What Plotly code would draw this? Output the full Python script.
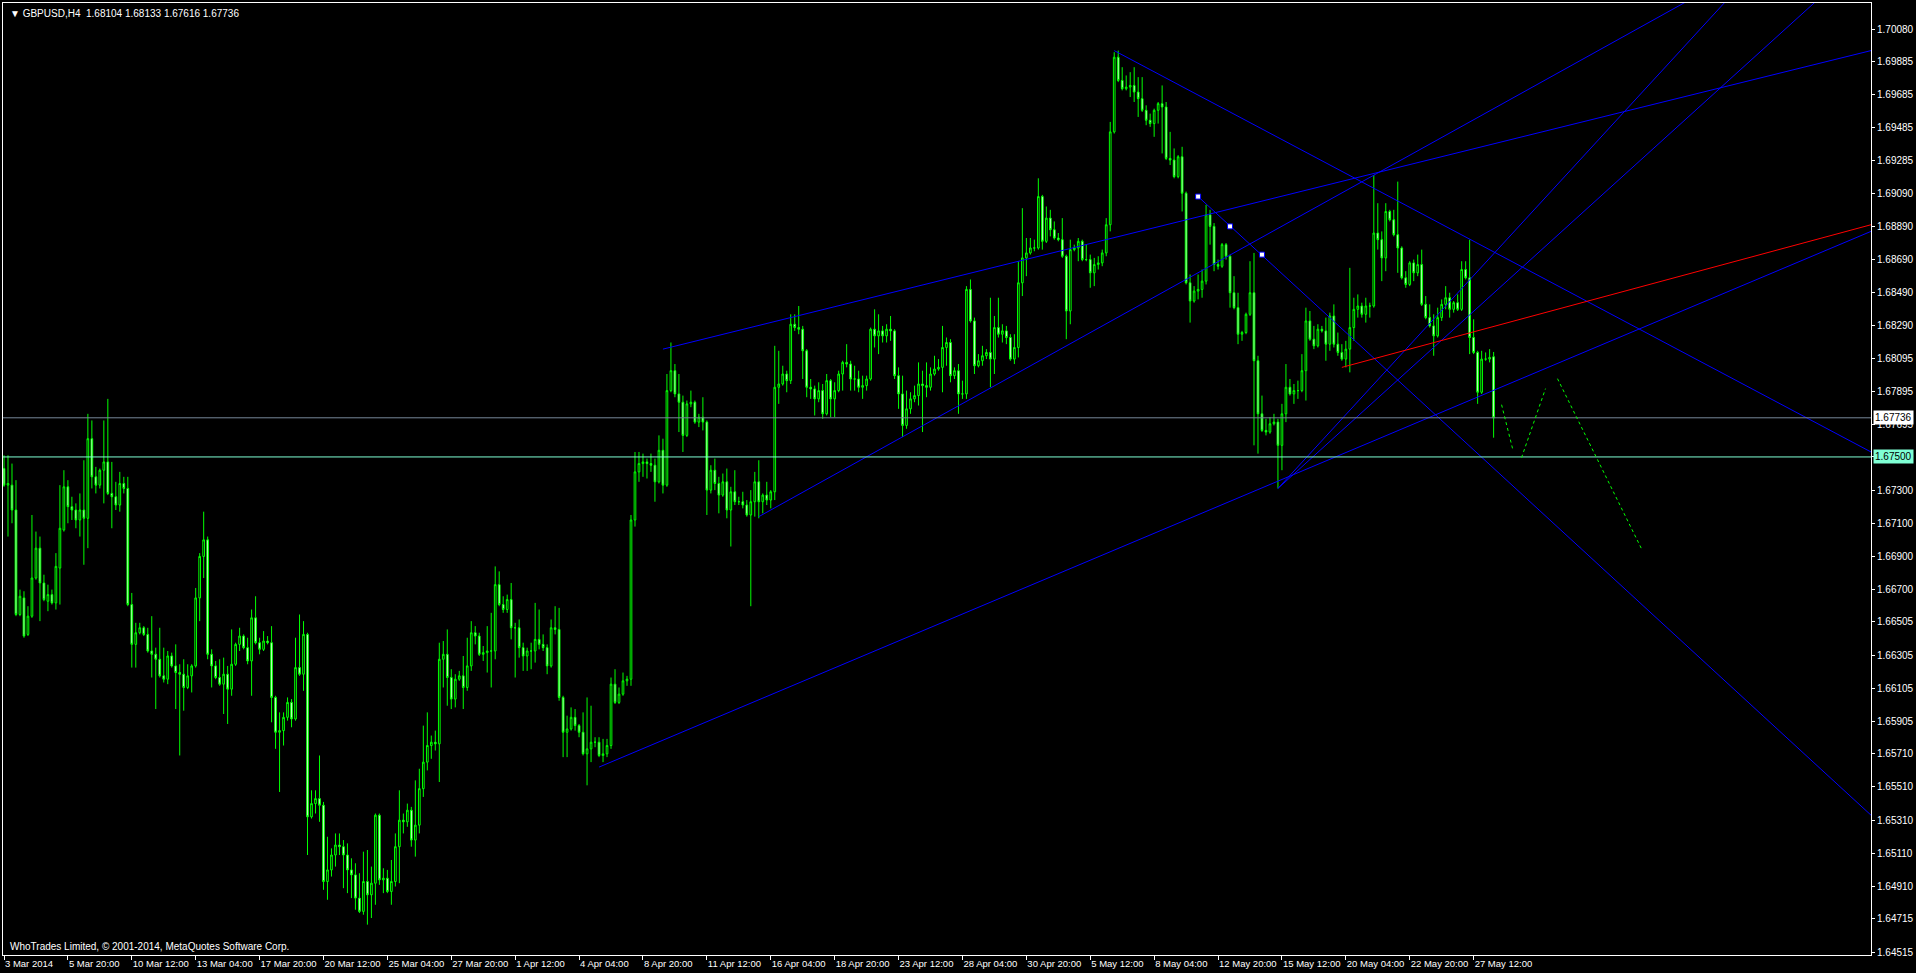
import plotly.graph_objects as go

# ---------------- data (GBPUSD, H4 candles) ----------------
opens = [
 1.6743,1.6733,1.6733,1.6718,1.6655,1.6665,1.6643,1.6654,1.6677,1.6695,
 1.6674,1.6663,1.6667,1.6662,1.6683,1.6706,1.6732,1.6720,1.6718,1.6712,
 1.6718,1.6713,1.6761,1.6738,1.6733,1.6742,1.6747,1.6728,1.6726,1.6721,
 1.6734,1.6731,1.6661,1.6637,1.6644,1.6647,1.6643,1.6633,1.6631,1.6628,
 1.6618,1.6616,1.6630,1.6624,1.6620,1.6619,1.6611,1.6618,1.6624,1.6665,
 1.6690,1.6700,1.6631,1.6624,1.6617,1.6613,1.6619,1.6610,1.6625,1.6637,
 1.6642,1.6635,1.6627,1.6653,1.6638,1.6634,1.6639,1.6638,1.6605,1.6584,
 1.6585,1.6593,1.6602,1.6592,1.6623,1.6619,1.6643,1.6533,1.6541,1.6544,
 1.6540,1.6494,1.6501,1.6510,1.6516,1.6515,1.6510,1.6501,1.6498,1.6484,
 1.6476,1.6494,1.6486,1.6493,1.6534,1.6495,1.6496,1.6488,1.6494,1.6515,
 1.6531,1.6530,1.6537,1.6519,1.6528,1.6550,1.6566,1.6576,1.6578,1.6577,
 1.6628,1.6631,1.6617,1.6604,1.6616,1.6618,1.6611,1.6624,1.6644,1.6642,
 1.6631,1.6632,1.6633,1.6633,1.6673,1.6661,1.6658,1.6664,1.6647,1.6647,
 1.6635,1.6630,1.6633,1.6633,1.6640,1.6637,1.6635,1.6624,1.6647,1.6646,
 1.6605,1.6584,1.6586,1.6593,1.6588,1.6584,1.6571,1.6574,1.6578,1.6578,
 1.6570,1.6571,1.6576,1.6613,1.6602,1.6607,1.6615,1.6616,1.6712,1.6741,
 1.6746,1.6747,1.6746,1.6745,1.6735,1.6754,1.6733,1.6790,1.6802,1.6788,
 1.6783,1.6763,1.6782,1.6783,1.6771,1.6774,1.6771,1.6730,1.6742,1.6734,
 1.6727,1.6735,1.6718,1.6729,1.6723,1.6723,1.6721,1.6715,1.6723,1.6735,
 1.6723,1.6727,1.6724,1.6729,1.6792,1.6794,1.6800,1.6796,1.6830,1.6828,
 1.6827,1.6814,1.6792,1.6791,1.6785,1.6790,1.6776,1.6796,1.6785,1.6790,
 1.6800,1.6807,1.6806,1.6797,1.6797,1.6792,1.6793,1.6797,1.6827,1.6823,
 1.6826,1.6823,1.6827,1.6826,1.6799,1.6788,1.6769,1.6779,1.6785,1.6787,
 1.6794,1.6793,1.6792,1.6800,1.6803,1.6804,1.6816,1.6819,1.6799,1.6802,
 1.6788,1.6788,1.6851,1.6832,1.6805,1.6808,1.6811,1.6813,1.6809,1.6828,
 1.6824,1.6826,1.6822,1.6809,1.6816,1.6855,1.6870,1.6873,1.6876,1.6876,
 1.6907,1.6880,1.6894,1.6887,1.6882,1.6881,1.6871,1.6838,1.6875,1.6876,
 1.6880,1.6869,1.6869,1.6861,1.6866,1.6867,1.6873,1.6890,1.6946,1.6991,
 1.6977,1.6972,1.6973,1.6974,1.6970,1.6966,1.6959,1.6953,1.6951,1.6959,
 1.6963,1.6961,1.6930,1.6929,1.6919,1.6931,1.6909,1.6855,1.6844,1.6850,
 1.6851,1.6856,1.6896,1.6889,1.6866,1.6865,1.6878,1.6871,1.6849,1.6840,
 1.6824,1.6825,1.6836,1.6849,1.6808,1.6776,1.6766,1.6765,1.6770,1.6771,
 1.6757,1.6776,1.6792,1.6788,1.6790,1.6790,1.6802,1.6832,1.6821,1.6817,
 1.6827,1.6826,1.6818,1.6835,1.6818,1.6813,1.6809,1.6815,1.6828,1.6839,
 1.6841,1.6836,1.6841,1.6841,1.6885,1.6881,1.6870,1.6898,1.6893,1.6884,
 1.6876,1.6858,1.6854,1.6867,1.6861,1.6866,1.6842,1.6834,1.6829,1.6823,
 1.6834,1.6842,1.6846,1.6839,1.6843,1.6839,1.6863,1.6858,1.6822,1.6813,
 1.6789,1.6809,1.6809,1.68104]

highs = [
 1.6751,1.6751,1.6746,1.6736,1.6670,1.6669,1.6660,1.6715,1.6705,1.6702,
 1.6679,1.6673,1.6670,1.6692,1.6733,1.6742,1.6736,1.6726,1.6722,1.6728,
 1.6748,1.6776,1.6772,1.6744,1.6743,1.6772,1.6785,1.6747,1.6735,1.6741,
 1.6738,1.6738,1.6668,1.6650,1.6650,1.6648,1.6647,1.6654,1.6635,1.6647,
 1.6635,1.6633,1.6632,1.6637,1.6625,1.6628,1.6625,1.6625,1.6671,1.6692,
 1.6717,1.6702,1.6634,1.6627,1.6628,1.6629,1.6624,1.6646,1.6638,1.6647,
 1.6643,1.6641,1.6658,1.6666,1.6641,1.6645,1.6642,1.6648,1.6606,1.6596,
 1.6596,1.6605,1.6604,1.6641,1.6655,1.6651,1.6644,1.6549,1.6549,1.6570,
 1.6542,1.6521,1.6514,1.6523,1.6523,1.6519,1.6517,1.6508,1.6505,1.6499,
 1.6512,1.6513,1.6503,1.6535,1.6535,1.6502,1.6501,1.6507,1.6523,1.6549,
 1.6535,1.6541,1.6539,1.6555,1.6562,1.6588,1.6596,1.6582,1.6585,1.6638,
 1.6639,1.6646,1.6622,1.6619,1.6621,1.6630,1.6641,1.6651,1.6648,1.6644,
 1.6636,1.6648,1.6656,1.6684,1.6681,1.6666,1.6667,1.6674,1.6650,1.6652,
 1.6638,1.6635,1.6638,1.6662,1.6658,1.6643,1.6637,1.6652,1.6660,1.6659,
 1.6606,1.6594,1.6599,1.6598,1.6589,1.6596,1.6605,1.6600,1.6581,1.6581,
 1.6580,1.6580,1.6617,1.6622,1.6611,1.6620,1.6618,1.6715,1.6753,1.6753,
 1.6752,1.6749,1.6752,1.6749,1.6763,1.6761,1.6800,1.6819,1.6806,1.6800,
 1.6787,1.6784,1.6790,1.6784,1.6776,1.6786,1.6772,1.6745,1.6749,1.6738,
 1.6740,1.6743,1.6732,1.6742,1.6726,1.6729,1.6724,1.6730,1.6741,1.6748,
 1.6728,1.6735,1.6730,1.6817,1.6814,1.6805,1.6802,1.6836,1.6836,1.6841,
 1.6829,1.6815,1.6797,1.6793,1.6795,1.6794,1.6800,1.6797,1.6795,1.6802,
 1.6808,1.6818,1.6808,1.6805,1.6802,1.6799,1.6799,1.6828,1.6839,1.6836,
 1.6829,1.6830,1.6835,1.6827,1.6804,1.6799,1.6790,1.6789,1.6793,1.6807,
 1.6802,1.6807,1.6804,1.6811,1.6809,1.6829,1.6822,1.6821,1.6804,1.6806,
 1.6796,1.6853,1.6857,1.6834,1.6812,1.6817,1.6815,1.6846,1.6835,1.6846,
 1.6830,1.6829,1.6824,1.6824,1.6868,1.6900,1.6882,1.6882,1.6881,1.6918,
 1.6908,1.6901,1.6899,1.6892,1.6885,1.6894,1.6872,1.6881,1.6878,1.6882,
 1.6881,1.6878,1.6872,1.6870,1.6871,1.6875,1.6894,1.6952,1.6994,1.6995,
 1.6985,1.6980,1.6982,1.6985,1.6979,1.6979,1.6962,1.6957,1.6960,1.6964,
 1.6974,1.6964,1.6946,1.6936,1.6932,1.6937,1.6910,1.6860,1.6853,1.6860,
 1.6863,1.6902,1.6899,1.6891,1.6869,1.6879,1.6879,1.6872,1.6859,1.6849,
 1.6826,1.6837,1.6868,1.6873,1.6811,1.6787,1.6773,1.6774,1.6776,1.6773,
 1.6782,1.6806,1.6797,1.6794,1.6796,1.6812,1.6840,1.6838,1.6829,1.6830,
 1.6829,1.6834,1.6837,1.6842,1.6825,1.6818,1.6820,1.6864,1.6846,1.6848,
 1.6843,1.6846,1.6843,1.6920,1.6903,1.6886,1.6903,1.6899,1.6899,1.6916,
 1.6877,1.6862,1.6868,1.6869,1.6872,1.6875,1.6847,1.6842,1.6836,1.6840,
 1.6845,1.6853,1.6849,1.6844,1.6848,1.6868,1.6868,1.6881,1.6833,1.6814,
 1.6814,1.6813,1.6815,1.68133]

lows = [
 1.6732,1.6702,1.6710,1.6654,1.6654,1.6641,1.6642,1.6653,1.6676,1.6651,
 1.6663,1.6657,1.6661,1.6658,1.6661,1.6705,1.6710,1.6712,1.6707,1.6702,
 1.6685,1.6695,1.6731,1.6728,1.6731,1.6722,1.6727,1.6707,1.6718,1.6717,
 1.6728,1.6660,1.6623,1.6623,1.6643,1.6642,1.6632,1.6617,1.6598,1.6617,
 1.6614,1.6613,1.6623,1.6598,1.6570,1.6597,1.6610,1.6608,1.6623,1.6651,
 1.6677,1.6628,1.6611,1.6616,1.6612,1.6595,1.6589,1.6606,1.6624,1.6633,
 1.6634,1.6625,1.6606,1.6637,1.6631,1.6633,1.6637,1.6590,1.6574,1.6548,
 1.6576,1.6591,1.6587,1.6591,1.6618,1.6609,1.6510,1.6532,1.6535,1.6530,
 1.6489,1.6483,1.6497,1.6503,1.6510,1.6490,1.6487,1.6484,1.6477,1.6475,
 1.6474,1.6468,1.6472,1.6480,1.6492,1.6487,1.6487,1.6480,1.6491,1.6493,
 1.6523,1.6527,1.6515,1.6509,1.6523,1.6545,1.6561,1.6568,1.6573,1.6554,
 1.6611,1.6600,1.6598,1.6599,1.6615,1.6598,1.6609,1.6621,1.6637,1.6630,
 1.6627,1.6620,1.6611,1.6628,1.6660,1.6656,1.6656,1.6640,1.6617,1.6629,
 1.6621,1.6621,1.6622,1.6626,1.6634,1.6633,1.6619,1.6623,1.6643,1.6603,
 1.6569,1.6569,1.6585,1.6585,1.6581,1.6570,1.6552,1.6566,1.6575,1.6569,
 1.6566,1.6569,1.6574,1.6601,1.6601,1.6606,1.6612,1.6612,1.6708,1.6735,
 1.6738,1.6737,1.6741,1.6723,1.6734,1.6728,1.6732,1.6789,1.6786,1.6765,
 1.6753,1.6762,1.6780,1.6770,1.6768,1.6766,1.6715,1.6728,1.6730,1.6716,
 1.6726,1.6713,1.6696,1.6721,1.6721,1.6719,1.6714,1.6660,1.6714,1.6713,
 1.6716,1.6721,1.6719,1.6724,1.6782,1.6793,1.6789,1.6794,1.6826,1.6824,
 1.6797,1.6786,1.6785,1.6775,1.6783,1.6773,1.6775,1.6774,1.6774,1.6789,
 1.6790,1.6804,1.6790,1.6790,1.6789,1.6785,1.6790,1.6796,1.6816,1.6812,
 1.6819,1.6819,1.6820,1.6797,1.6779,1.6762,1.6767,1.6776,1.6783,1.6781,
 1.6765,1.6786,1.6790,1.6799,1.6802,1.6789,1.6805,1.6795,1.6797,1.6776,
 1.6785,1.6785,1.6831,1.6800,1.6804,1.6805,1.6809,1.6792,1.6800,1.6822,
 1.6819,1.6818,1.6808,1.6806,1.6810,1.6847,1.6859,1.6872,1.6874,1.6875,
 1.6875,1.6879,1.6883,1.6881,1.6880,1.6870,1.6821,1.6830,1.6874,1.6868,
 1.6868,1.6868,1.6852,1.6853,1.6863,1.6865,1.6871,1.6886,1.6945,1.6976,
 1.6971,1.6971,1.6967,1.6964,1.6955,1.6958,1.6950,1.6949,1.6943,1.6951,
 1.6933,1.6929,1.6926,1.6918,1.6918,1.6898,1.6854,1.6831,1.6843,1.6845,
 1.6846,1.6854,1.6878,1.6862,1.6863,1.6864,1.6869,1.6840,1.6839,1.6818,
 1.6820,1.6824,1.6835,1.6757,1.6752,1.6765,1.6763,1.6764,1.6769,1.6731,
 1.6742,1.6771,1.6787,1.6782,1.6785,1.6789,1.6784,1.6820,1.6815,1.6816,
 1.6825,1.6808,1.6814,1.6816,1.6811,1.6808,1.6804,1.6801,1.6820,1.6834,
 1.6834,1.6831,1.6834,1.6840,1.6875,1.6856,1.6862,1.6892,1.6883,1.6861,
 1.6857,1.6852,1.6853,1.6856,1.6859,1.6841,1.6833,1.6828,1.6811,1.6822,
 1.6832,1.6839,1.6834,1.6837,1.6838,1.6838,1.6857,1.6812,1.6812,1.6782,
 1.6788,1.6808,1.6807,1.67616]

closes = [
 1.6733,1.6734,1.6718,1.6655,1.6666,1.6642,1.6654,1.6677,1.6695,1.6674,
 1.6664,1.6667,1.6662,1.6684,1.6707,1.6732,1.6720,1.6718,1.6712,1.6718,
 1.6713,1.6761,1.6738,1.6733,1.6742,1.6747,1.6728,1.6726,1.6721,1.6734,
 1.6731,1.6661,1.6637,1.6644,1.6647,1.6643,1.6633,1.6631,1.6628,1.6618,
 1.6616,1.6630,1.6624,1.6620,1.6619,1.6611,1.6618,1.6624,1.6665,1.6690,
 1.6700,1.6631,1.6624,1.6617,1.6613,1.6619,1.6610,1.6625,1.6637,1.6642,
 1.6635,1.6627,1.6653,1.6638,1.6634,1.6639,1.6638,1.6605,1.6584,1.6585,
 1.6593,1.6602,1.6592,1.6623,1.6619,1.6643,1.6533,1.6541,1.6544,1.6540,
 1.6494,1.6501,1.6510,1.6516,1.6515,1.6510,1.6501,1.6498,1.6484,1.6476,
 1.6494,1.6486,1.6493,1.6534,1.6495,1.6496,1.6488,1.6494,1.6515,1.6531,
 1.6530,1.6537,1.6519,1.6528,1.6550,1.6566,1.6576,1.6578,1.6577,1.6628,
 1.6631,1.6617,1.6604,1.6616,1.6618,1.6611,1.6624,1.6644,1.6642,1.6631,
 1.6632,1.6633,1.6633,1.6673,1.6661,1.6658,1.6664,1.6647,1.6647,1.6635,
 1.6630,1.6633,1.6633,1.6640,1.6637,1.6635,1.6624,1.6647,1.6646,1.6605,
 1.6584,1.6586,1.6593,1.6588,1.6584,1.6571,1.6574,1.6578,1.6578,1.6570,
 1.6571,1.6576,1.6613,1.6602,1.6607,1.6615,1.6616,1.6712,1.6741,1.6746,
 1.6747,1.6746,1.6745,1.6735,1.6754,1.6733,1.6790,1.6802,1.6788,1.6783,
 1.6763,1.6782,1.6783,1.6771,1.6774,1.6771,1.6730,1.6742,1.6734,1.6727,
 1.6735,1.6718,1.6729,1.6723,1.6723,1.6721,1.6715,1.6723,1.6735,1.6723,
 1.6727,1.6724,1.6729,1.6792,1.6794,1.6800,1.6796,1.6830,1.6828,1.6827,
 1.6814,1.6792,1.6791,1.6785,1.6790,1.6776,1.6796,1.6785,1.6790,1.6800,
 1.6807,1.6806,1.6797,1.6797,1.6792,1.6793,1.6797,1.6827,1.6823,1.6826,
 1.6823,1.6827,1.6826,1.6799,1.6788,1.6769,1.6779,1.6785,1.6787,1.6794,
 1.6793,1.6792,1.6800,1.6803,1.6804,1.6816,1.6819,1.6799,1.6802,1.6788,
 1.6788,1.6851,1.6832,1.6805,1.6808,1.6811,1.6813,1.6809,1.6828,1.6824,
 1.6826,1.6822,1.6809,1.6816,1.6855,1.6870,1.6873,1.6876,1.6876,1.6907,
 1.6880,1.6894,1.6887,1.6882,1.6881,1.6871,1.6838,1.6875,1.6876,1.6880,
 1.6869,1.6869,1.6861,1.6866,1.6867,1.6873,1.6890,1.6946,1.6991,1.6977,
 1.6972,1.6973,1.6974,1.6970,1.6966,1.6959,1.6953,1.6951,1.6959,1.6963,
 1.6961,1.6930,1.6929,1.6919,1.6931,1.6909,1.6855,1.6844,1.6850,1.6851,
 1.6856,1.6896,1.6889,1.6866,1.6865,1.6878,1.6871,1.6849,1.6840,1.6824,
 1.6825,1.6836,1.6849,1.6808,1.6776,1.6766,1.6765,1.6770,1.6771,1.6757,
 1.6776,1.6792,1.6788,1.6790,1.6790,1.6802,1.6832,1.6821,1.6817,1.6827,
 1.6826,1.6818,1.6835,1.6818,1.6813,1.6809,1.6815,1.6828,1.6839,1.6841,
 1.6836,1.6841,1.6841,1.6885,1.6881,1.6870,1.6898,1.6893,1.6884,1.6876,
 1.6858,1.6854,1.6867,1.6861,1.6866,1.6842,1.6834,1.6829,1.6823,1.6834,
 1.6842,1.6846,1.6839,1.6843,1.6839,1.6863,1.6858,1.6822,1.6813,1.6789,
 1.6809,1.6809,1.6810,1.67736]

bar_index = list(range(len(closes)))

# time-axis labels (one every 16 H4 bars)
date_labels = ["3 Mar 2014", "5 Mar 20:00", "10 Mar 12:00", "13 Mar 04:00", "17 Mar 20:00",
               "20 Mar 12:00", "25 Mar 04:00", "27 Mar 20:00", "1 Apr 12:00", "4 Apr 04:00",
               "8 Apr 20:00", "11 Apr 12:00", "16 Apr 04:00", "18 Apr 20:00", "23 Apr 12:00",
               "28 Apr 04:00", "30 Apr 20:00", "5 May 12:00", "8 May 04:00", "12 May 20:00",
               "15 May 12:00", "20 May 04:00", "22 May 20:00", "27 May 12:00"]
date_bars = [16 * k for k in range(len(date_labels))]

# price-axis labels
price_labels = ["1.70080", "1.69885", "1.69685", "1.69485", "1.69285", "1.69090", "1.68890",
                "1.68690", "1.68490", "1.68290", "1.68095", "1.67895", "1.67695", "1.67500",
                "1.67300", "1.67100", "1.66900", "1.66700", "1.66505", "1.66305", "1.66105",
                "1.65905", "1.65710", "1.65510", "1.65310", "1.65110", "1.64910", "1.64715",
                "1.64515"]
price_vals = [float(s) for s in price_labels]

# drawn objects: trend-line rays (two anchor points each: bar index, price)
ray_blue_a = [(278, 1.6995), (467.5, 1.6753)]
ray_blue_b = [(149, 1.6563), (467.5, 1.6886)]
ray_blue_c = [(165, 1.6815), (467.5, 1.6995)]
ray_blue_d = [(189, 1.6714), (376.75, 1.6965)]
ray_blue_e = [(299, 1.6907), (467.5, 1.6534)]
ray_blue_f = [(319, 1.6731), (430.75, 1.70237)]
ray_blue_g = [(319, 1.6731), (453.25, 1.70237)]
ray_red = [(335, 1.6804), (467.5, 1.6890)]
anchor_x = [299, 307, 315]
anchor_y = [1.6907, 1.6889, 1.6872]
forecast_x = [375, 377.75, None, 380, 386, None, 389, 410]
forecast_y = [1.67815, 1.67550, None, 1.67496, 1.67912, None, 1.67972, 1.66948]
bid_price = 1.67736
level_price = 1.67500
title_text = "GBPUSD,H4\u00a0\u00a01.68104 1.68133 1.67616 1.67736"

X_MIN, X_MAX = -0.25, 467.5
Y_MIN, Y_MAX = 1.64497, 1.70237

fig = go.Figure()

fig.add_trace(go.Candlestick(
    x=bar_index, open=opens, high=highs, low=lows, close=closes,
    increasing=dict(line=dict(color="#00FF00", width=1), fillcolor="#000000"),
    decreasing=dict(line=dict(color="#00FF00", width=1), fillcolor="#FFFFFF"),
    whiskerwidth=0, hoverinfo="skip", showlegend=False))


def add_ray(anchors, color):
    (x0, y0), (x1, y1) = anchors
    slope = (y1 - y0) / (x1 - x0)
    x_end = X_MAX + 20
    fig.add_trace(go.Scatter(x=[x0, x_end], y=[y0, y0 + slope * (x_end - x0)],
                             mode="lines", line=dict(color=color, width=1),
                             hoverinfo="skip", showlegend=False))


for r in [ray_blue_a, ray_blue_b, ray_blue_c, ray_blue_d, ray_blue_e, ray_blue_f, ray_blue_g]:
    add_ray(r, "#0000FF")
add_ray(ray_red, "#FF0000")

# horizontal lines
fig.add_trace(go.Scatter(x=[X_MIN - 5, X_MAX + 5], y=[bid_price, bid_price], mode="lines",
                         line=dict(color="#778899", width=1), hoverinfo="skip", showlegend=False))
fig.add_trace(go.Scatter(x=[X_MIN - 5, X_MAX + 5], y=[level_price, level_price], mode="lines",
                         line=dict(color="#7FFFD4", width=1), hoverinfo="skip", showlegend=False))

# forecast path (dotted)
fig.add_trace(go.Scatter(x=forecast_x, y=forecast_y, mode="lines", connectgaps=False,
                         line=dict(color="#00FF00", width=1, dash="dot"),
                         hoverinfo="skip", showlegend=False))

# anchor points of the selected line
fig.add_trace(go.Scatter(x=anchor_x, y=anchor_y, mode="markers",
                         marker=dict(symbol="square", size=5, color="#FFFFFF",
                                     line=dict(color="#0000FF", width=1)),
                         hoverinfo="skip", showlegend=False))

FONT = "Liberation Sans"
fig.update_layout(
    width=1916, height=973,
    margin=dict(l=2, r=43, t=2, b=18),
    paper_bgcolor="#000000", plot_bgcolor="#000000",
    showlegend=False,
    boxgap=0.4,
    font=dict(family=FONT, size=10, color="#FFFFFF"),
    xaxis=dict(range=[X_MIN, X_MAX], tickmode="array", tickvals=date_bars, ticktext=date_labels,
               ticks="outside", ticklen=4, tickcolor="#FFFFFF", tickwidth=1,
               ticklabelposition="outside right", tickangle=0,
               tickfont=dict(family=FONT, size=9.5, color="#FFFFFF"),
               showgrid=False, zeroline=False, showline=True, linecolor="#FFFFFF",
               linewidth=1, mirror=True, rangeslider=dict(visible=False), fixedrange=True),
    yaxis=dict(range=[Y_MIN, Y_MAX], side="right", tickmode="array", tickvals=price_vals,
               ticktext=price_labels, ticks="outside", ticklen=3, tickcolor="#FFFFFF",
               tickwidth=1, tickfont=dict(family=FONT, size=10, color="#FFFFFF"),
               showgrid=False, zeroline=False, showline=True, linecolor="#FFFFFF",
               linewidth=1, mirror=True, fixedrange=True),
)

annotations = [
    dict(xref="paper", yref="paper", x=0, y=1, xanchor="left", yanchor="top",
         xshift=5, yshift=-3, showarrow=False, text="\u25BC " + title_text,
         font=dict(family=FONT, size=10, color="#FFFFFF")),
    dict(xref="paper", yref="paper", x=0, y=0, xanchor="left", yanchor="bottom",
         xshift=5, yshift=1, showarrow=False,
         text="WhoTrades Limited, \u00a9 2001-2014, MetaQuotes Software Corp.",
         font=dict(family=FONT, size=10, color="#FFFFFF")),
    dict(xref="paper", yref="y", x=1, y=bid_price, xanchor="left", yanchor="middle",
         xshift=2, showarrow=False, text="1.67736", bgcolor="#FFFFFF", borderpad=1,
         font=dict(family=FONT, size=10, color="#000000")),
    dict(xref="paper", yref="y", x=1, y=level_price, xanchor="left", yanchor="middle",
         xshift=2, showarrow=False, text="1.67500", bgcolor="#7FFFD4", borderpad=1,
         font=dict(family=FONT, size=10, color="#000000")),
]
fig.update_layout(annotations=annotations)

fig.write_html("out.html", config={"displayModeBar": False},
               post_script="document.body.style.margin='0';")
